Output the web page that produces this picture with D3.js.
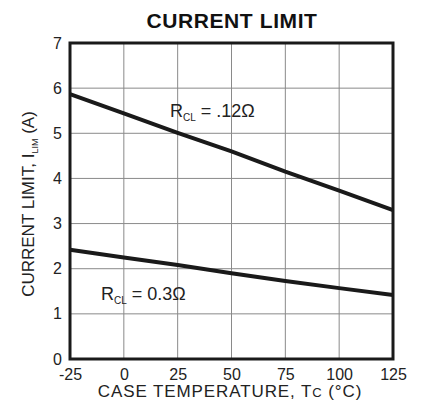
<!DOCTYPE html>
<html>
<head>
<meta charset="utf-8">
<script src="https://cdn.jsdelivr.net/npm/d3@7"></script>
<style>
  body { margin: 0; background: #fff; }
  svg { display: block; font-family: "Liberation Sans", Arial, sans-serif; }
</style>
</head>
<body>
<svg id="chart" width="425" height="408"></svg>
<script>
// case temperature (°C) and current limit (A)
const temps = [-25, 0, 25, 50, 75, 100, 125];
const limitR012 = [5.87, 5.44, 5.01, 4.6, 4.15, 3.73, 3.3];
const limitR03 = [2.42, 2.25, 2.08, 1.9, 1.73, 1.57, 1.42];
const xTicks = [-25, 0, 25, 50, 75, 100, 125];
const yTicks = [0, 1, 2, 3, 4, 5, 6, 7];

const margin = { top: 43, right: 32, bottom: 49, left: 70 };
const width = 425 - margin.left - margin.right;
const height = 408 - margin.top - margin.bottom;

const svg = d3.select("#chart");
const g = svg.append("g").attr("transform", `translate(${margin.left},${margin.top})`);

const x = d3.scaleLinear().domain([-25, 125]).range([0, width]);
const y = d3.scaleLinear().domain([0, 7]).range([height, 0]);

// grid
g.selectAll(".vgrid").data(xTicks.slice(1, -1)).join("line")
  .attr("x1", d => x(d)).attr("x2", d => x(d))
  .attr("y1", 0).attr("y2", height)
  .attr("stroke", "#8a8a8a").attr("stroke-width", 1);
g.selectAll(".hgrid").data(yTicks.slice(1, -1)).join("line")
  .attr("y1", d => y(d)).attr("y2", d => y(d))
  .attr("x1", 0).attr("x2", width)
  .attr("stroke", "#8a8a8a").attr("stroke-width", 1);

// axes (labels only, frame drawn below)
const xAxis = g.append("g").attr("transform", `translate(0,${height})`)
  .call(d3.axisBottom(x).tickValues(xTicks).tickSize(0).tickPadding(10).tickFormat(d => String(d)));
const yAxis = g.append("g")
  .call(d3.axisLeft(y).tickValues(yTicks).tickSize(0).tickPadding(8).tickFormat(d => String(d)));
[xAxis, yAxis].forEach(a => {
  a.select(".domain").remove();
  a.selectAll("text").attr("font-size", 16).attr("fill", "#222")
    .attr("font-family", "Liberation Sans, Arial, sans-serif");
});

// curves
const line = d3.line().x(d => x(d[0])).y(d => y(d[1]));
[limitR012, limitR03].forEach(s => {
  g.append("path")
    .datum(temps.map((t, i) => [t, s[i]]))
    .attr("d", line)
    .attr("fill", "none")
    .attr("stroke", "#1a1a1a")
    .attr("stroke-width", 4);
});

// frame
g.append("rect").attr("width", width).attr("height", height)
  .attr("fill", "none").attr("stroke", "#1a1a1a").attr("stroke-width", 3);

// curve labels
function rclLabel(px, py, val) {
  const t = g.append("text").attr("x", px).attr("y", py)
    .attr("font-size", 18).attr("fill", "#222");
  t.append("tspan").text("R");
  t.append("tspan").text("CL").attr("font-size", 10).attr("dy", 4);
  t.append("tspan").text(" = " + val).attr("dy", -4);
}
rclLabel(x(21.4), y(5.36), ".12Ω");
rclLabel(x(-10.6), y(1.31), "0.3Ω");

// title
svg.append("text").attr("x", 232).attr("y", 28)
  .attr("text-anchor", "middle").attr("font-size", 21).attr("font-weight", "bold")
  .attr("letter-spacing", 0.6)
  .attr("fill", "#111").text("CURRENT LIMIT");

// x title
const xt = svg.append("text").attr("x", 230).attr("y", 397)
  .attr("text-anchor", "middle").attr("font-size", 17).attr("letter-spacing", 0.9)
  .attr("fill", "#222");
xt.append("tspan").text("CASE TEMPERATURE, T");
xt.append("tspan").text("C").attr("font-size", 13);
xt.append("tspan").text(" (°C)");

// y title
const yt = svg.append("text")
  .attr("transform", `translate(34,204) rotate(-90)`)
  .attr("text-anchor", "middle").attr("font-size", 17).attr("fill", "#222");
yt.append("tspan").text("CURRENT LIMIT, I");
yt.append("tspan").text("LIM").attr("font-size", 9).attr("dy", 4);
yt.append("tspan").text(" (A)").attr("dy", -4);
</script>
</body>
</html>
